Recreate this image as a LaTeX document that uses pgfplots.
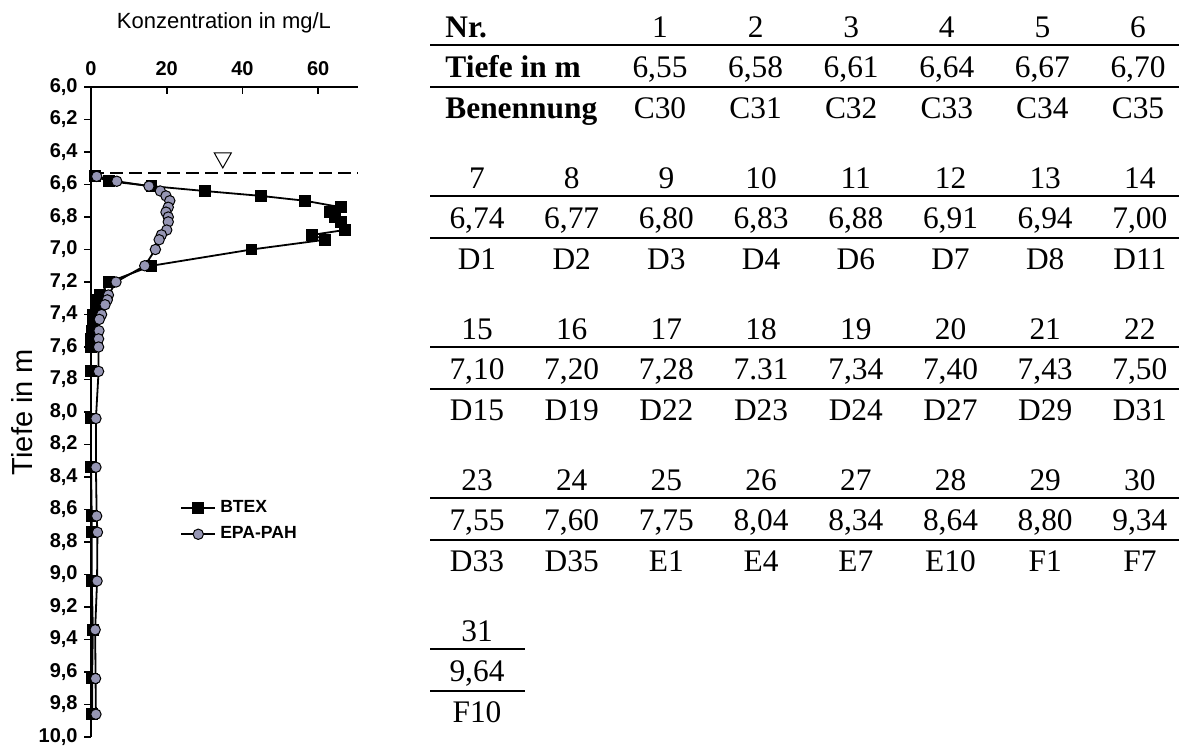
\documentclass[border=0pt]{standalone}
\usepackage{pgfplots}
\pgfplotsset{compat=1.18}
\usepackage{fontspec}
\setmainfont{Liberation Sans}
\newfontfamily\tnr{Liberation Serif}
\definecolor{pahfill}{RGB}{150,150,180}

\begin{document}
\begin{tikzpicture}
\path[use as bounding box] (0,0) rectangle (589.5pt,-373.5pt);
\begin{axis}[
  at={(45.5pt,-43.5pt)}, anchor=north west,
  scale only axis, width=133.5pt, height=325pt,
  xmin=0, xmax=70.5, ymin=6, ymax=10, y dir=reverse,
  axis x line*=top, axis y line*=left,
  axis line style={line width=0.8pt, -},
  xtick={0,20,40,60},
  ytick={6,6.2,6.4,6.6,6.8,7,7.2,7.4,7.6,7.8,8,8.2,8.4,8.6,8.8,9,9.2,9.4,9.6,9.8,10},
  tick align=inside, major tick length=3.5pt,
  tick style={black, line width=0.8pt},
  ytick style={xshift=-3.5pt},
  /pgf/number format/assume math mode=true,
  tick label style={font=\fontsize{10}{12}\selectfont\bfseries, inner sep=0pt},
  xticklabel style={yshift=5.5pt},
  yticklabel style={xshift=-6.5pt, /pgf/number format/.cd, fixed, fixed zerofill, precision=1, use comma},
  xlabel={Konzentration in mg/L},
  xlabel style={at={(axis description cs:0.498,1.098)}, anchor=center, font=\fontsize{11}{13}\selectfont},
  ylabel={Tiefe in m},
  ylabel style={at={(axis description cs:-0.258,0.5)}, anchor=center, rotate=0, font=\fontsize{14.5}{17}\selectfont},
  clip=false,
  legend style={at={(axis description cs:0.333,0.332)}, anchor=west, draw=none, fill=none,
    font=\fontsize{8.8}{10.5}\selectfont\bfseries, row sep=1.5pt, inner sep=0pt},
  legend cell align=left,
]
\addplot[black, line width=1.1pt, dash pattern=on 6.5pt off 3pt, forget plot] coordinates {(0,6.527) (70.5,6.527)};
\draw[fill=white, line width=0.5pt] (axis cs:34.8,6.498) -- ++(-4.25pt,7.5pt) -- ++(8.5pt,0pt) -- cycle;

\addplot[black, line width=0.9pt, mark=square*, mark size=2.5pt, mark options={solid, fill=black}] coordinates {
(1.0,6.55) (4.8,6.58) (16,6.61) (30,6.64) (44.8,6.67) (56.5,6.70) (66,6.74) (63,6.77) (64.5,6.80) (66,6.83) (67,6.88) (58.4,6.91) (61.8,6.94) (42.4,7.00) (16,7.10) (4.8,7.20) (2.4,7.28) (1.5,7.31) (1.2,7.34) (0.6,7.40) (0.5,7.43) (0.3,7.50) (0.1,7.55) (0,7.60) (0,7.75) (0,8.04) (0,8.34) (0.2,8.64) (0.2,8.74) (0.2,9.04) (0.5,9.34) (0.3,9.64) (0.3,9.86)
};
\addlegendentry{BTEX}
\addplot[black, line width=0.9pt, mark=*, mark size=2.6pt, mark options={solid, fill=pahfill, line width=0.5pt}] coordinates {
(1.5,6.55) (6.8,6.58) (15.3,6.61) (18.3,6.64) (19.8,6.67) (20.8,6.70) (20.4,6.74) (19.8,6.77) (20.4,6.80) (20.4,6.83) (20,6.88) (18.6,6.91) (18,6.94) (17,7.00) (14.2,7.10) (6.6,7.20) (4.6,7.28) (4.3,7.31) (3.7,7.34) (2.8,7.40) (2.2,7.43) (2.1,7.50) (2.0,7.55) (2.0,7.60) (2.0,7.75) (1.3,8.04) (1.3,8.34) (1.5,8.64) (1.7,8.74) (1.6,9.04) (1.1,9.34) (1.2,9.64) (1.3,9.86)
};
\addlegendentry{EPA-PAH}
\end{axis}

\begin{scope}[x=0.5pt, y=-0.5pt, every node/.style={font=\tnr\fontsize{15.7}{18}\selectfont, inner sep=0pt}]
% block 1
\node[anchor=base west, font=\tnr\fontsize{15.7}{18}\selectfont\bfseries] at (445,37.7) {Nr.};
\node[anchor=base west, font=\tnr\fontsize{15.7}{18}\selectfont\bfseries] at (445,77.2) {Tiefe in m};
\node[anchor=base west, font=\tnr\fontsize{15.7}{18}\selectfont\bfseries] at (445,118.7) {Benennung};
\foreach \t [count=\i from 0] in {1,...,6} \node[anchor=base] at ({660+95.6*\i},37.7) {\t};
\foreach \t [count=\i from 0] in {{6,55},{6,58},{6,61},{6,64},{6,67},{6,70}} \node[anchor=base] at ({660+95.6*\i},77.2) {\t};
\foreach \t [count=\i from 0] in {C30,C31,C32,C33,C34,C35} \node[anchor=base] at ({660+95.6*\i},118.7) {\t};
\draw[line width=1.2pt] (430,45) -- (1179,45);
\draw[line width=1.2pt] (430,87) -- (1179,87);
% block 2
\foreach \t [count=\i from 0] in {7,...,14} \node[anchor=base] at ({477+94.7*\i},188.7) {\t};
\foreach \t [count=\i from 0] in {{6,74},{6,77},{6,80},{6,83},{6,88},{6,91},{6,94},{7,00}} \node[anchor=base] at ({477+94.7*\i},228.2) {\t};
\foreach \t [count=\i from 0] in {D1,D2,D3,D4,D6,D7,D8,D11} \node[anchor=base] at ({477+94.7*\i},269.7) {\t};
\draw[line width=1.2pt] (430,196) -- (1179,196);
\draw[line width=1.2pt] (430,238) -- (1179,238);
% block 3
\foreach \t [count=\i from 0] in {15,...,22} \node[anchor=base] at ({477+94.7*\i},339.7) {\t};
\foreach \t [count=\i from 0] in {{7,10},{7,20},{7,28},{7.31},{7,34},{7,40},{7,43},{7,50}} \node[anchor=base] at ({477+94.7*\i},379.2) {\t};
\foreach \t [count=\i from 0] in {D15,D19,D22,D23,D24,D27,D29,D31} \node[anchor=base] at ({477+94.7*\i},420.7) {\t};
\draw[line width=1.2pt] (430,347) -- (1179,347);
\draw[line width=1.2pt] (430,389) -- (1179,389);
% block 4
\foreach \t [count=\i from 0] in {23,...,30} \node[anchor=base] at ({477+94.7*\i},490.7) {\t};
\foreach \t [count=\i from 0] in {{7,55},{7,60},{7,75},{8,04},{8,34},{8,64},{8,80},{9,34}} \node[anchor=base] at ({477+94.7*\i},530.2) {\t};
\foreach \t [count=\i from 0] in {D33,D35,E1,E4,E7,E10,F1,F7} \node[anchor=base] at ({477+94.7*\i},571.7) {\t};
\draw[line width=1.2pt] (430,498) -- (1179,498);
\draw[line width=1.2pt] (430,540) -- (1179,540);
% block 5
\node[anchor=base] at (477,641.7) {31};
\node[anchor=base] at (477,681.2) {9,64};
\node[anchor=base] at (477,722.7) {F10};
\draw[line width=1.2pt] (430,649) -- (525,649);
\draw[line width=1.2pt] (430,691) -- (525,691);
\end{scope}
\end{tikzpicture}
\end{document}
